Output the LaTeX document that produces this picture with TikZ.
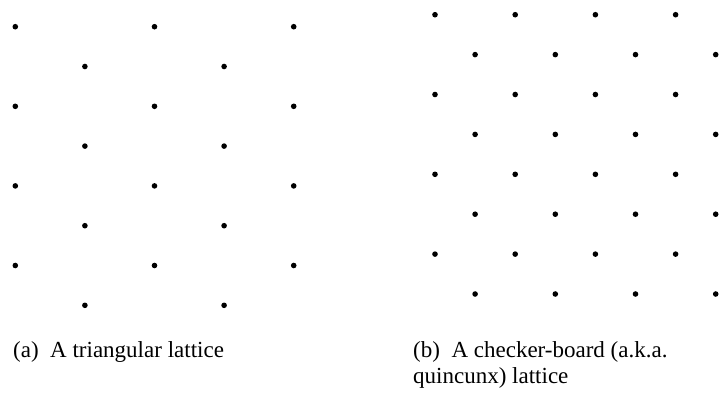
\documentclass[tikz,border=0pt]{standalone}
\usepackage{fontspec}
\setmainfont{Liberation Serif}
\begin{document}
\begin{tikzpicture}[
    x=1pt,y=-1pt,
    dot/.style={fill=black,draw=none},
    caption/.style={anchor=base west,inner sep=0pt,align=left,font=\fontsize{23}{26}\selectfont}
]
\useasboundingbox (0,0) rectangle (728,397);
% Triangular lattice
\foreach \r in {0,2,4,6}{
  \foreach \c in {0,1,2}{
    \fill[dot] (15.3+139.2*\c,26.7+39.8*\r) circle (2.8);
  }
}
\foreach \r in {1,3,5,7}{
  \foreach \c in {0,1}{
    \fill[dot] (84.9+139.2*\c,26.7+39.8*\r) circle (2.8);
  }
}
% Checker-board lattice
\foreach \r in {0,2,4,6}{
  \foreach \c in {0,1,2,3}{
    \fill[dot] (435+80.2*\c,14.7+39.9*\r) circle (2.8);
  }
}
\foreach \r in {1,3,5,7}{
  \foreach \c in {0,1,2,3}{
    \fill[dot] (475.1+80.2*\c,14.7+39.9*\r) circle (2.8);
  }
}
% Captions
\node[caption] (capA) at (13,357) {(a)\ \ A triangular lattice};
\node[caption] (capB) at (413,383) {(b)\ \ A checker-board (a.k.a.\\quincunx) lattice};
\end{tikzpicture}
\end{document}
